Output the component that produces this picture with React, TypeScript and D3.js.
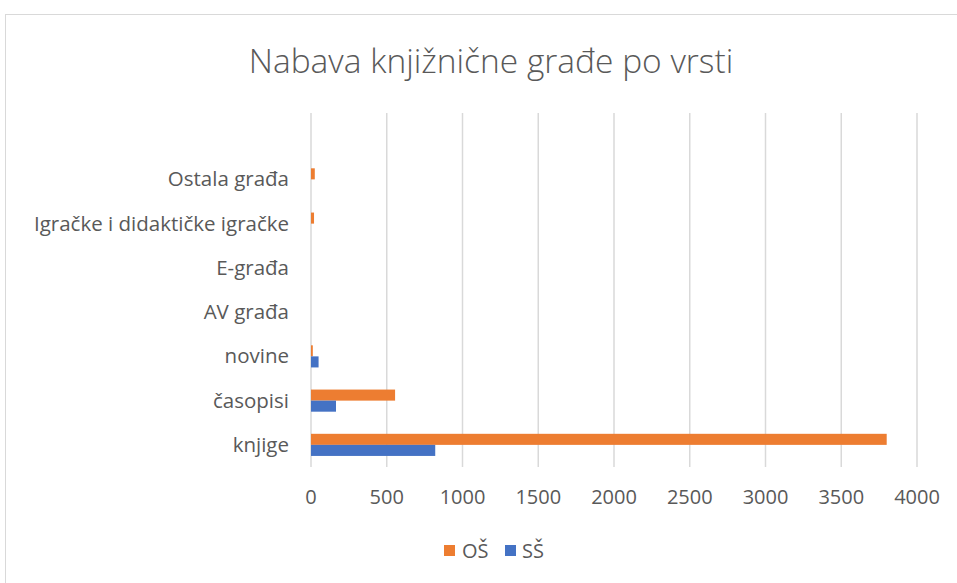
import React from 'react';
import * as d3 from 'd3';

// categories listed top to bottom (top slot is an empty category in the source)
const categories = ['', 'Ostala građa', 'Igračke i didaktičke igračke', 'E-građa', 'AV građa', 'novine', 'časopisi', 'knjige'];
const seriesNames = ['OŠ', 'SŠ'];
const osValues = [0, 25, 20, 0, 0, 12, 555, 3800];
const ssValues = [0, 0, 0, 0, 0, 50, 165, 820];
const xTicks = [0, 500, 1000, 1500, 2000, 2500, 3000, 3500, 4000];

const colors = ['#ED7D31', '#4472C4'];
const font = '"Open Sans", sans-serif';

const App = () => {
  const width = 957;
  const height = 583;
  const plot = { left: 311, right: 917, top: 113, bottom: 467 };

  const x = d3.scaleLinear().domain([0, 4000]).range([plot.left, plot.right]);
  const y = d3.scaleBand().domain(categories).range([plot.top, plot.bottom]).paddingInner(0.5).paddingOuter(0.25);
  const inner = d3.scaleBand().domain(seriesNames).range([0, y.bandwidth()]);

  const series = [osValues, ssValues];

  return (
    <svg width={width} height={height} style={{ position: 'absolute', left: 0, top: 0, background: '#fff' }}>
      <rect x={5.5} y={14.5} width={width + 10} height={height + 10} fill="#fff" stroke="#d9d9d9" strokeWidth={1} />
      <text x={491} y={73} textAnchor="middle" fontFamily={font} fontWeight={300} fontSize={33.5} fill="#595959">
        Nabava knjižnične građe po vrsti
      </text>

      {xTicks.map(t => (
        <g key={t}>
          <line x1={x(t)} x2={x(t)} y1={plot.top} y2={plot.bottom} stroke="#d9d9d9" strokeWidth={1.5} />
          <text x={x(t)} y={504} textAnchor="middle" fontFamily={font} fontSize={20} fill="#595959">{t}</text>
        </g>
      ))}

      {categories.map(c => (
        <text key={c || 'blank'} x={289} y={(y(c) ?? 0) + y.bandwidth() / 2 + 7} textAnchor="end" fontFamily={font} fontSize={20.5} fill="#595959">
          {c}
        </text>
      ))}

      {series.map((vals, si) => (
        <g key={seriesNames[si]} fill={colors[si]}>
          {vals.map((v, i) => (
            v > 0 ? (
              <rect key={i} x={x(0)} y={(y(categories[i]) ?? 0) + (inner(seriesNames[si]) ?? 0)}
                width={x(v) - x(0)} height={inner.bandwidth()} />
            ) : null
          ))}
        </g>
      ))}

      <g fontFamily={font} fontSize={20} fill="#595959">
        <rect x={444} y={545} width={11} height={11} fill={colors[0]} />
        <text x={462} y={558}>{seriesNames[0]}</text>
        <rect x={505} y={545} width={11} height={11} fill={colors[1]} />
        <text x={522} y={558}>{seriesNames[1]}</text>
      </g>
    </svg>
  );
};

export default App;
